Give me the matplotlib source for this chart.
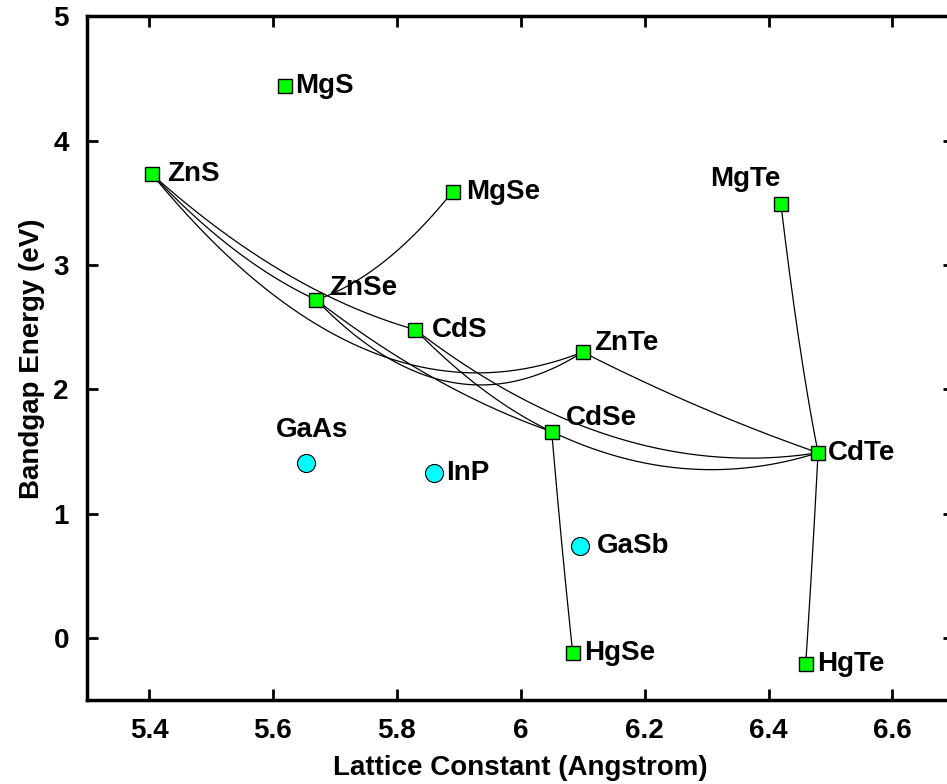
import numpy as np
import matplotlib
matplotlib.use("Agg")
import matplotlib.pyplot as plt

plt.rcParams['font.family'] = ['Liberation Sans', 'DejaVu Sans']
plt.rcParams['font.weight'] = 'bold'

# II-VI compounds: lattice constant (Angstrom) and bandgap (eV)
ii_vi_names = ["MgS", "ZnS", "MgSe", "ZnSe", "CdS", "ZnTe", "CdSe",
               "CdTe", "MgTe", "HgSe", "HgTe"]
ii_vi_a = [5.62, 5.405, 5.89, 5.67, 5.83, 6.10, 6.05, 6.48, 6.42, 6.084, 6.46]
ii_vi_eg = [4.44, 3.73, 3.59, 2.72, 2.48, 2.30, 1.66, 1.49, 3.49, -0.12, -0.21]

# III-V substrates
iii_v_names = ["GaAs", "InP", "GaSb"]
iii_v_a = [5.653, 5.86, 6.095]
iii_v_eg = [1.41, 1.33, 0.74]

# ternary alloys: end members and bowing parameter (eV)
alloy_a = ["ZnS", "ZnS", "ZnS", "ZnSe", "ZnSe", "ZnSe", "CdS", "CdS",
           "ZnTe", "CdSe", "CdSe", "MgTe", "CdTe"]
alloy_b = ["ZnSe", "CdS", "ZnTe", "ZnTe", "CdSe", "MgSe", "CdSe", "CdTe",
           "CdTe", "CdTe", "HgSe", "CdTe", "HgTe"]
bowing = [0.4, 0.65, 2.8, 1.8, 0.4, 0.5, 0.3, 1.5, 0.15, 0.85, 0.2, 0.5, 0.2]

# label offsets in pixels (dx, dy) and horizontal alignment
label_dx = [10, 15, 14, 13, 16, 11, 14, 10, -36, 11, 11]
label_dy = [0, 0, 0, 12, 0, 9, 14, 0, 25, 0, 0]
label_ha = ["left"] * 8 + ["center", "left", "left"]
sub_dx = [6, 12, 17]
sub_dy = [33, 0, 0]
sub_ha = ["center", "left", "left"]

fig = plt.figure(figsize=(9.47, 7.84), dpi=100)
ax = fig.add_axes([0.0919, 0.107, 0.9159, 0.872])

idx = {n: i for i, n in enumerate(ii_vi_names)}
x = np.linspace(0, 1, 200)
for p, q, b in zip(alloy_a, alloy_b, bowing):
    i, j = idx[p], idx[q]
    a = (1 - x) * ii_vi_a[i] + x * ii_vi_a[j]
    e = (1 - x) * ii_vi_eg[i] + x * ii_vi_eg[j] - b * x * (1 - x)
    ax.plot(a, e, color='black', linewidth=0.9, zorder=2)

ax.plot(ii_vi_a, ii_vi_eg, 's', markersize=10, markerfacecolor='#00ff00',
        markeredgecolor='black', markeredgewidth=1, zorder=3)
ax.plot(iii_v_a, iii_v_eg, 'o', markersize=13, markerfacecolor='#00ffff',
        markeredgecolor='black', markeredgewidth=0.8, zorder=3)

for n, a, e, dx, dy, ha in zip(ii_vi_names, ii_vi_a, ii_vi_eg,
                               label_dx, label_dy, label_ha):
    ax.annotate(n, (a, e), xytext=(dx, dy), textcoords='offset pixels',
                ha=ha, va='center', fontsize=20, fontweight='bold', zorder=4)
for n, a, e, dx, dy, ha in zip(iii_v_names, iii_v_a, iii_v_eg,
                               sub_dx, sub_dy, sub_ha):
    ax.annotate(n, (a, e), xytext=(dx, dy), textcoords='offset pixels',
                ha=ha, va='center', fontsize=20, fontweight='bold', zorder=4)

ax.set_xlim(5.3, 6.7)
ax.set_ylim(-0.5, 5)
ax.set_xticks([5.4, 5.6, 5.8, 6.0, 6.2, 6.4, 6.6])
ax.set_xticklabels(["5.4", "5.6", "5.8", "6", "6.2", "6.4", "6.6"])
ax.set_yticks([0, 1, 2, 3, 4, 5])
ax.tick_params(direction='in', length=8, width=2, top=True, right=True,
               labelsize=20, pad=13)
for s in ax.spines.values():
    s.set_linewidth(2.5)
ax.set_xlabel("Lattice Constant (Angstrom)", fontsize=20, fontweight='bold',
              labelpad=8)
ax.set_ylabel("Bandgap Energy (eV)", fontsize=20, fontweight='bold',
              labelpad=6)

fig.savefig("out.png", dpi=100)
